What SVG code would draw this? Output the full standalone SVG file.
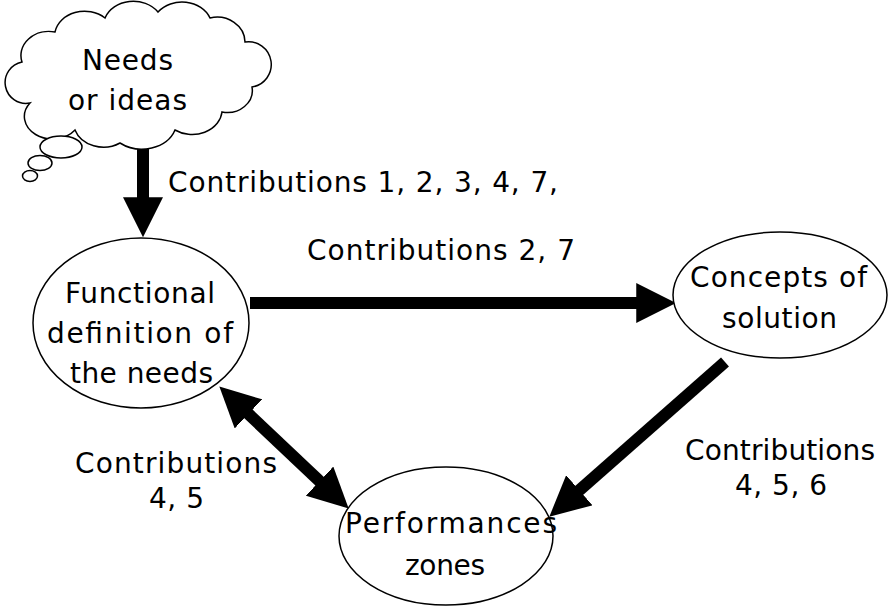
<svg xmlns="http://www.w3.org/2000/svg" width="890" height="608" viewBox="0 0 890 608">
<style>
.node{fill:#fff;stroke:#000;stroke-width:1.5}
.lbl{font-family:"DejaVu Sans","Liberation Sans",sans-serif;font-size:28px;fill:#000}
.conn{stroke:#000;stroke-width:12;fill:none}
</style>
<defs>
<marker id="ah" markerUnits="userSpaceOnUse" markerWidth="40" markerHeight="40" viewBox="0 0 36 36" refX="16" refY="18" orient="auto-start-reverse">
<path d="M0,0 L36,18 L0,36 Z" fill="#000"/>
</marker>
</defs>
<rect width="890" height="608" fill="#fff"/>
<g id="connectors">
<line class="conn" x1="143" y1="146" x2="143" y2="215" marker-end="url(#ah)"/>
<line class="conn" x1="250" y1="303" x2="654" y2="303" marker-end="url(#ah)"/>
<line class="conn" x1="725" y1="362" x2="566" y2="502" marker-end="url(#ah)"/>
<line class="conn" x1="235.5" y1="401.7" x2="332.5" y2="493.3" marker-start="url(#ah)" marker-end="url(#ah)"/>
</g>
<g id="node-needs">
<path class="node" d="M30,103 A20,20 0 0 1 22,62 A28,24 0 0 1 55,32 A30,25 0 0 1 105,18 A30,25 0 0 1 158,12 A30,25 0 0 1 210,18 A28,25 0 0 1 245,42 A22,22 0 0 1 252,87 A25,22 0 0 1 222,112 A30,25 0 0 1 175,130 A35,28 0 0 1 120,143 A30,25 0 0 1 75,130 A25,20 0 0 1 30,103 Z"/>
<ellipse class="node" cx="61" cy="147" rx="21" ry="11"/>
<ellipse class="node" cx="40" cy="163" rx="12" ry="7.5"/>
<ellipse class="node" cx="30" cy="176" rx="7.5" ry="5.5"/>
<text class="lbl" x="82" y="70" textLength="91" lengthAdjust="spacing">Needs</text>
<text class="lbl" x="68" y="110" textLength="119" lengthAdjust="spacing">or ideas</text>
</g>
<g id="node-functional">
<ellipse class="node" cx="141" cy="323" rx="108" ry="85"/>
<text class="lbl" x="65" y="303" textLength="150" lengthAdjust="spacing">Functional</text>
<text class="lbl" x="47" y="343" textLength="186" lengthAdjust="spacing">definition of</text>
<text class="lbl" x="70" y="383" textLength="143" lengthAdjust="spacing">the needs</text>
</g>
<g id="node-concepts">
<ellipse class="node" cx="780" cy="295" rx="107" ry="63"/>
<text class="lbl" x="690" y="287" textLength="177" lengthAdjust="spacing">Concepts of</text>
<text class="lbl" x="722" y="328" textLength="115" lengthAdjust="spacing">solution</text>
</g>
<g id="node-performances">
<ellipse class="node" cx="446" cy="536" rx="107" ry="69"/>
<text class="lbl" x="345" y="533" textLength="212" lengthAdjust="spacing">Performances</text>
<text class="lbl" x="405" y="575" textLength="80" lengthAdjust="spacing">zones</text>
</g>
<g id="labels">
<text class="lbl" x="168" y="192" textLength="390" lengthAdjust="spacing">Contributions 1, 2, 3, 4, 7,</text>
<text class="lbl" x="307" y="260" textLength="268" lengthAdjust="spacing">Contributions 2, 7</text>
<text class="lbl" x="75" y="473" textLength="202" lengthAdjust="spacing">Contributions</text>
<text class="lbl" x="149" y="508" textLength="55" lengthAdjust="spacing">4, 5</text>
<text class="lbl" x="685" y="460" textLength="190" lengthAdjust="spacing">Contributions</text>
<text class="lbl" x="735" y="495" textLength="92" lengthAdjust="spacing">4, 5, 6</text>
</g>
</svg>
